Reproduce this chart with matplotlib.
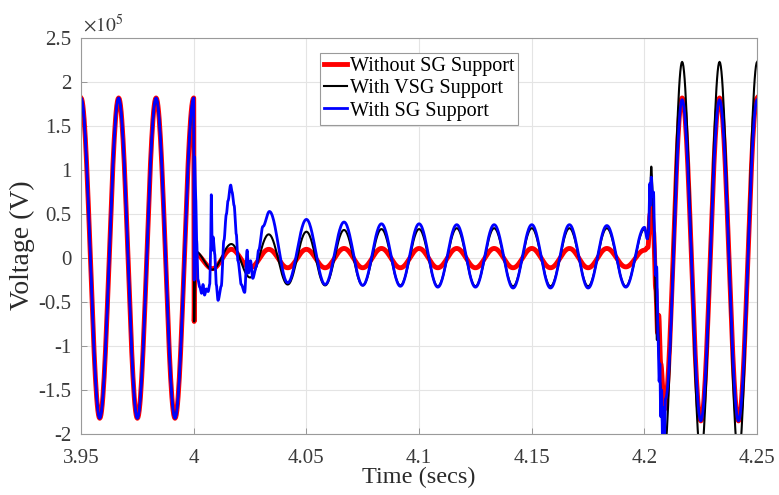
import numpy as np
import matplotlib
matplotlib.use("Agg")
import matplotlib.pyplot as plt

plt.rcParams["font.family"] = ["Liberation Serif", "DejaVu Serif"]
plt.rcParams["mathtext.fontset"] = "stix"

# values in units of 1e5 V (extrema / transient points)
PRE_T = [3.95, 3.9583, 3.9667, 3.975, 3.9833, 3.9917, 4.0]
PRE_V = [1.82, -1.82, 1.82, -1.82, 1.82, -1.82, 1.82]

FAULT_T = [4.0083, 4.0167, 4.025, 4.0333, 4.0417, 4.05, 4.0583, 4.0667,
           4.075, 4.0833, 4.0917, 4.1, 4.1083, 4.1167, 4.125, 4.1333,
           4.1417, 4.15, 4.1583, 4.1667, 4.175, 4.1833, 4.1917, 4.2]
RED_FAULT = [-0.12, 0.10, -0.11, 0.10, -0.11, 0.10, -0.11, 0.11, -0.11, 0.11, -0.11, 0.11,
             -0.11, 0.11, -0.11, 0.11, -0.11, 0.11, -0.11, 0.11, -0.11, 0.11, -0.10, 0.09]
BLACK_FAULT = [-0.13, 0.16, -0.22, 0.27, -0.30, 0.30, -0.31, 0.32, -0.31, 0.33, -0.31, 0.33,
               -0.32, 0.34, -0.32, 0.34, -0.32, 0.34, -0.32, 0.34, -0.32, 0.34, -0.32, 0.33]
BLUE_FAULT = [-0.28, 0.44, -0.30, 0.41, -0.31, 0.39, -0.32, 0.39, -0.33, 0.38,
              -0.33, 0.38, -0.34, 0.38, -0.34, 0.38, -0.34, 0.37, -0.33, 0.35]  # from 4.0417

POST_T = [4.2167, 4.225, 4.2333, 4.2417, 4.25]
RED_POST = [1.82, -1.85, 1.82, -1.85, 1.82]
BLACK_POST = [2.23, -2.25, 2.23, -2.25, 2.23]
BLUE_POST = [1.80, -1.85, 1.80, -1.85, 1.80]

# fault inception transients
RED_ON_T = [4.0002, 4.0006]
RED_ON_V = [-0.72, 0.05]
BLACK_ON_T = [4.0002, 4.0006]
BLACK_ON_V = [-0.72, 0.08]
BLUE_ON_T = [4.0002, 4.0004, 4.0007, 4.0009, 4.0013, 4.0019, 4.0027, 4.0035, 4.0041, 4.0048,
             4.0056, 4.0064, 4.0071, 4.0075, 4.0078, 4.0082, 4.0086, 4.0093, 4.0100, 4.0108,
             4.0122, 4.0134, 4.0145, 4.0152, 4.0164, 4.0170, 4.0179, 4.0189, 4.0196, 4.0211,
             4.0226, 4.0237, 4.0243, 4.0252, 4.0262, 4.0277, 4.0288, 4.0307, 4.0336]
BLUE_ON_V = [-0.25, 1.15, 0.82, 0.67, 0.20, -0.25, -0.33, -0.40, -0.30, -0.42,
             -0.35, -0.38, -0.30, 0.10, 0.72, 0.09, 0.24, 0.05, -0.30, -0.48,
             -0.32, 0.20, 0.50, 0.65, 0.83, 0.75, 0.60, 0.27, -0.03, -0.30,
             -0.39, 0.09, -0.17, -0.03, -0.23, -0.10, 0.09, 0.36, 0.53]

# fault clearing transients
RED_OFF_T = [4.2015, 4.2025, 4.2031, 4.2040, 4.2050, 4.2058, 4.2063, 4.2072, 4.2088]
RED_OFF_V = [0.12, 0.50, 0.62, 0.30, -0.35, -0.85, -0.65, -1.20, -1.72]
BLACK_OFF_T = [4.2015, 4.2025, 4.2030, 4.2036, 4.2043, 4.2050, 4.2055, 4.2059, 4.2068, 4.2086]
BLACK_OFF_V = [0.22, 0.75, 1.04, 0.75, 0.25, -0.50, -0.93, -0.70, -1.40, -2.25]
BLUE_OFF_T = [4.2012, 4.2018, 4.2024, 4.2027, 4.2030, 4.2035, 4.2040, 4.2045, 4.2050, 4.2054,
              4.2060, 4.2065, 4.2068, 4.2072, 4.2076, 4.2080, 4.2084, 4.2088, 4.2093]
BLUE_OFF_V = [0.22, 0.30, 0.85, 0.60, 0.92, 0.70, 0.75, 0.20, -0.20, -0.10,
              -0.90, -1.40, -1.20, -1.80, -1.50, -2.10, -1.70, -2.10, -1.60]

X_TICKS = [3.95, 4.0, 4.05, 4.1, 4.15, 4.2, 4.25]
X_LABELS = ["3.95", "4", "4.05", "4.1", "4.15", "4.2", "4.25"]
Y_TICKS = [-2, -1.5, -1, -0.5, 0, 0.5, 1, 1.5, 2, 2.5]
Y_LABELS = ["-2", "-1.5", "-1", "-0.5", "0", "0.5", "1", "1.5", "2", "2.5"]


def trace(t_pts, v_pts, n=30):
    """Join the read points with half-cosine segments (smooth between extrema)."""
    t_out, v_out = [], []
    for i in range(len(t_pts) - 1):
        s = np.linspace(0, 1, n, endpoint=False)
        t_out.append(t_pts[i] + s * (t_pts[i + 1] - t_pts[i]))
        v_out.append(v_pts[i] + (v_pts[i + 1] - v_pts[i]) * (1 - np.cos(np.pi * s)) / 2)
    t_out.append([t_pts[-1]])
    v_out.append([v_pts[-1]])
    return np.concatenate(t_out), np.concatenate(v_out)


red = trace(PRE_T + RED_ON_T + FAULT_T + RED_OFF_T + POST_T,
            PRE_V + RED_ON_V + RED_FAULT + RED_OFF_V + RED_POST)
black = trace(PRE_T + BLACK_ON_T + FAULT_T + BLACK_OFF_T + POST_T,
              PRE_V + BLACK_ON_V + BLACK_FAULT + BLACK_OFF_V + BLACK_POST)
blue = trace(PRE_T + BLUE_ON_T + FAULT_T[4:] + BLUE_OFF_T + POST_T,
             PRE_V + BLUE_ON_V + BLUE_FAULT + BLUE_OFF_V + BLUE_POST)

fig = plt.figure(figsize=(7.79, 4.95), dpi=100)
ax = fig.add_axes([0.104, 0.123, 0.868, 0.8])

ax.plot(red[0], red[1], color="#ff0000", linewidth=3.5, label="Without SG Support")
ax.plot(black[0], black[1], color="black", linewidth=1.5, label="With VSG Support")
ax.plot(blue[0], blue[1], color="#0000ff", linewidth=2.0, label="With SG Support")

ax.set_xlim(3.95, 4.25)
ax.set_ylim(-2, 2.5)
ax.set_xticks(X_TICKS)
ax.set_xticklabels(X_LABELS)
ax.set_yticks(Y_TICKS)
ax.set_yticklabels(Y_LABELS)
ax.tick_params(direction="in", length=4, width=0.6, colors="#8a8a8a",
               labelcolor="#3a3a3a", labelsize=15)
ax.tick_params(axis="x", pad=11)
ax.tick_params(axis="y", pad=7)
ax.grid(True, color="#e4e4e4", linewidth=0.8)
ax.set_axisbelow(True)
for sp in ax.spines.values():
    sp.set_color("#9a9a9a")
    sp.set_linewidth(0.8)

ax.set_xlabel("Time (secs)", fontsize=17.5, color="#2a2a2a")
ax.xaxis.set_label_coords(0.499, -0.082)
ax.set_ylabel("Voltage (V)", fontsize=20, color="#2a2a2a")
ax.yaxis.set_label_coords(-0.068, 0.477)
ax.text(0.003, 1.006, r"$\times10^5$", transform=ax.transAxes, fontsize=14,
        color="#3a3a3a", ha="left", va="bottom")

leg = ax.legend(loc="upper left", bbox_to_anchor=(0.354, 0.962), fontsize=14.5,
                frameon=True, fancybox=False, framealpha=1, edgecolor="#9a9a9a",
                handlelength=1.1, handletextpad=0.15, labelspacing=0.15,
                borderpad=0.2, borderaxespad=0)
leg.get_frame().set_linewidth(0.8)

fig.savefig("out.png", dpi=100)
